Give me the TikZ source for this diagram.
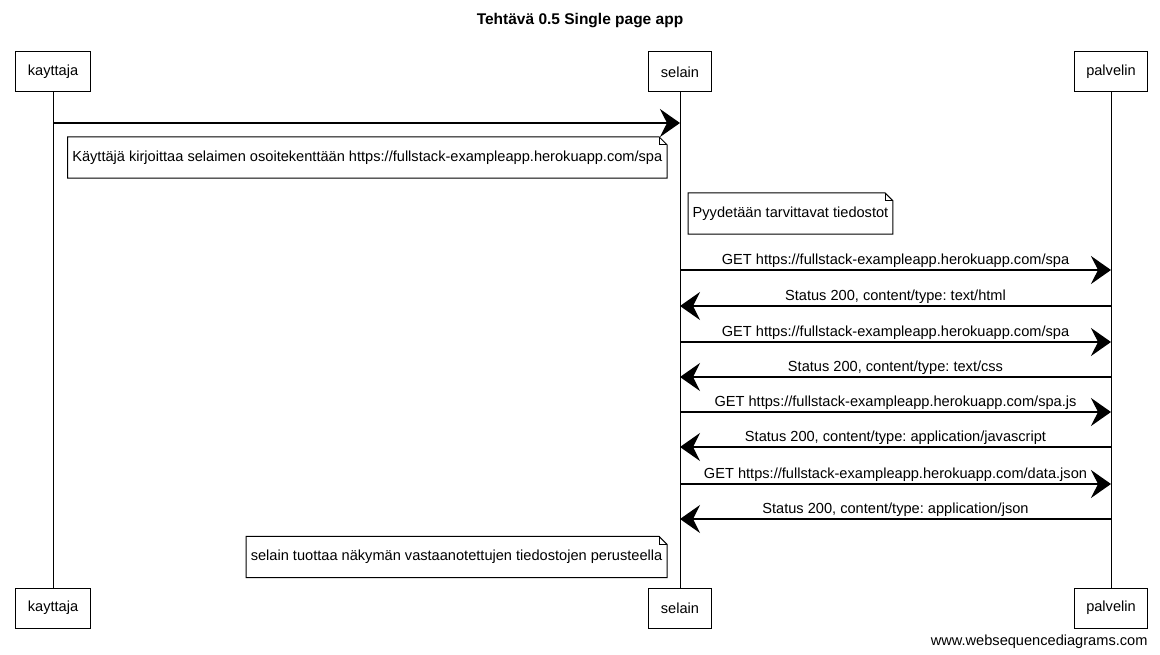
\documentclass[tikz,border=0pt]{standalone}
\usepackage{fontspec}
\setmainfont{Liberation Sans}
\usetikzlibrary{arrows.meta,positioning,calc}

\newcommand{\wsdfont}{\fontsize{14.6}{17}\selectfont\frenchspacing}

\tikzset{
  actor/.style={draw,line width=1pt,minimum height=40pt,inner xsep=12pt,font=\wsdfont},
  life/.style={line width=0.8pt},
  notebox/.style={minimum height=41pt,inner xsep=4.5pt,font=\wsdfont},
  msg/.style={line width=1.3pt,-{Stealth[length=20pt,width=28pt,inset=7pt]}},
  lbl/.style={font=\wsdfont,inner sep=2pt,anchor=south}
}

\begin{document}
\begin{tikzpicture}[x=1pt,y=-1pt]
    \useasboundingbox (0,0) rectangle (1160,655);
    \node[font=\fontsize{15.5}{18}\selectfont\bfseries] (title) at (580,21) {Tehtävä 0.5 Single page app};

    % participants
    \node[actor] (kt) at (53,72) {kayttaja};
    \node[actor] (st) at (680,72) {selain};
    \node[actor] (pt) at (1111,72) {palvelin};
    \node[actor] (kb) at (53,608) {kayttaja};
    \node[actor] (sb) at (680,608) {selain};
    \node[actor] (pb) at (1111,608) {palvelin};
    \draw[life] (kt) -- (kb);
    \draw[life] (st) -- (sb);
    \draw[life] (pt) -- (pb);

    % notes
    \node[notebox,anchor=east] (n1) at (667,157.5) {Käyttäjä kirjoittaa selaimen osoitekenttään https://fullstack-exampleapp.herokuapp.com/spa};
    \node[notebox,anchor=west] (n2) at (688,213.5) {Pyydetään tarvittavat tiedostot};
    \node[notebox,anchor=east] (n3) at (667,557) {selain tuottaa näkymän vastaanotettujen tiedostojen perusteella};
    \foreach \n in {n1,n2,n3} {
        \draw[line width=1pt] (\n.south west) -- (\n.north west) -- ([xshift=-8pt]\n.north east)
            -- ([yshift=-8pt]\n.north east) -- (\n.south east) -- cycle;
        \draw[line width=0.6pt] ([xshift=-8pt]\n.north east) |- ([yshift=-8pt]\n.north east);
    }

    % message ends on the lifelines
    \coordinate (k0) at (53,123);
    \coordinate (s0) at (680,123);
    \foreach \i/\y in {1/270,2/306,3/342,4/377,5/412,6/447,7/484,8/519} {
        \coordinate (s\i) at (680,\y);
        \coordinate (p\i) at (1111,\y);
    }

    % messages
    \draw[msg] (k0) -- (s0);
    \draw[msg] (s1) -- node[lbl] {GET https://fullstack-exampleapp.herokuapp.com/spa} (p1);
    \draw[msg] (p2) -- node[lbl] {Status 200, content/type: text/html} (s2);
    \draw[msg] (s3) -- node[lbl] {GET https://fullstack-exampleapp.herokuapp.com/spa} (p3);
    \draw[msg] (p4) -- node[lbl] {Status 200, content/type: text/css} (s4);
    \draw[msg] (s5) -- node[lbl] {GET https://fullstack-exampleapp.herokuapp.com/spa.js} (p5);
    \draw[msg] (p6) -- node[lbl] {Status 200, content/type: application/javascript} (s6);
    \draw[msg] (s7) -- node[lbl] {GET https://fullstack-exampleapp.herokuapp.com/data.json} (p7);
    \draw[msg] (p8) -- node[lbl] {Status 200, content/type: application/json} (s8);

    \node[font=\wsdfont,anchor=base east] (footer) at (1151,645) {www.websequencediagrams.com};
\end{tikzpicture}
\end{document}
